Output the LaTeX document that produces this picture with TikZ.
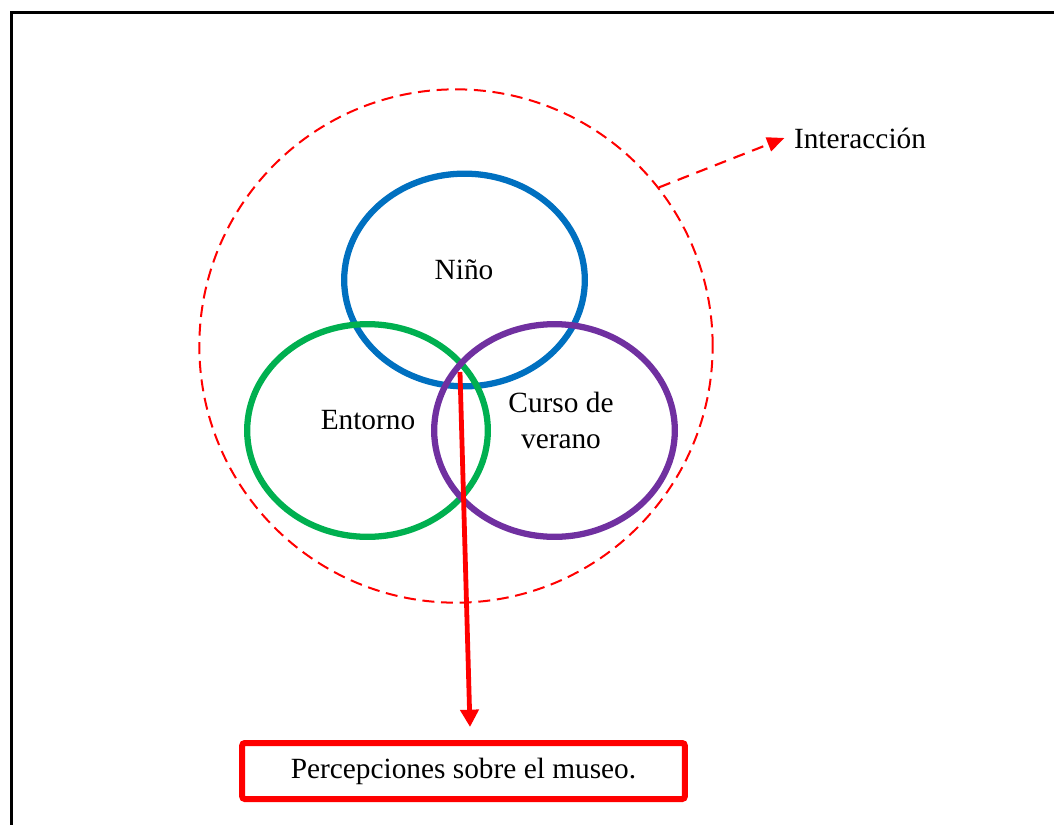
\documentclass[tikz,border=0pt]{standalone}
\usepackage{fontspec}
\setmainfont{Liberation Serif}
\usetikzlibrary{arrows.meta, positioning, shapes.geometric}
\definecolor{ninoblue}{RGB}{0,112,192}
\definecolor{entornogreen}{RGB}{0,176,80}
\definecolor{cursopurple}{RGB}{112,48,160}
\tikzset{>={Triangle[length=13pt,width=11pt]},
every node/.style={font=\fontsize{22}{27}\selectfont},
ring/.style={draw, ellipse, line width=4.7pt, minimum width=180.5pt, minimum height=159.5pt},
}

\begin{document}
\begin{tikzpicture}[x=0.75pt, y=-0.75pt]
    \useasboundingbox (0,0) rectangle (1054,825);
    \draw[line width=2.25pt] (11,12) rectangle (1080,850);

    % ambito de interaccion
    \node[draw=red, circle, line width=1.5pt, dash pattern=on 9pt off 5pt,
          minimum size=385pt] (interac) at (456,346) {};
    \node[inner sep=7pt] (intertxt) at (860,138) {Interacción};
    \draw[->, red, line width=1.6pt, dash pattern=on 9pt off 6pt]
        (interac.38) -- (intertxt.west);

    % los tres circulos
    \node[ring, draw=ninoblue] (nino) at (464.5,280) {};
    \node[ring, draw=entornogreen] (entorno) at (367.5,430.5) {};
    \node[ring, draw=cursopurple] (curso) at (554.5,430.5) {};
    \node (ninotxt) at (464,270) {Niño};
    \node (entornotxt) at (368,420) {Entorno};
    \node[align=center] (cursotxt) at (561,420) {Curso de\\verano};

    % percepciones
    \node[draw=red, line width=4.5pt, rounded corners=2pt, minimum width=332pt,
          minimum height=42pt] (museo) at (463.5,771) {Percepciones sobre el museo.};
    \coordinate (centro) at (460,372);
    \coordinate (punta) at (470,727);
    \draw[-{Triangle[length=13pt,width=13.5pt]}, red, line width=3.6pt] (centro) -- (punta);
\end{tikzpicture}
\end{document}
